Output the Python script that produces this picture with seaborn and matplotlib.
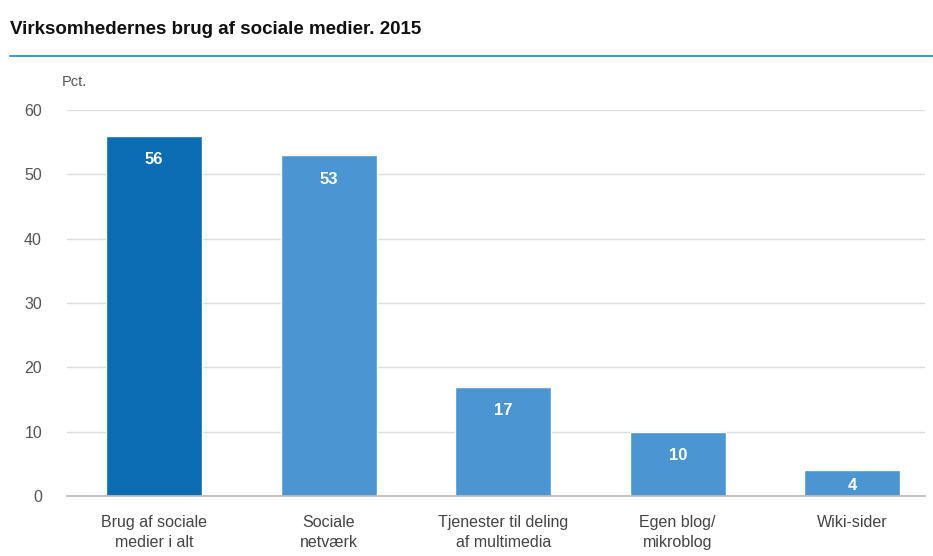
import matplotlib
matplotlib.use("Agg")
import matplotlib.pyplot as plt
import seaborn as sns
import pandas as pd

categories = ["Brug af sociale\nmedier i alt", "Sociale\nnetværk", "Tjenester til deling\naf multimedia",
              "Egen blog/\nmikroblog", "Wiki-sider"]
values = [56, 53, 17, 10, 4]
yticks = [0, 10, 20, 30, 40, 50, 60]
title = "Virksomhedernes brug af sociale medier. 2015"
unit = "Pct."

dark_blue = "#0b6cb4"
light_blue = "#4a95d2"
palette = [dark_blue] + [light_blue] * (len(categories) - 1)

sns.set_theme(style="white")
plt.rcParams["font.family"] = ["Liberation Sans", "DejaVu Sans"]

df = pd.DataFrame({"kategori": categories, "pct": values})

fig = plt.figure(figsize=(9.33, 5.56), dpi=100)
ax = fig.add_axes([67 / 933, 1 - 496 / 556, (925 - 67) / 933, (496 - 110) / 556])

sns.barplot(data=df, x="kategori", y="pct", hue="kategori", palette=palette,
            width=0.55, legend=False, ax=ax, saturation=1)

ax.set_xlim(-0.5, 4.417)
ax.set_ylim(0, 60)
ax.set_yticks(yticks)
ax.set_yticklabels([str(t) for t in yticks], fontsize=11.5, color="#555555")
ax.yaxis.grid(True, color="#dddddd", linewidth=1)
ax.set_axisbelow(True)
for s in ["top", "right", "left"]:
    ax.spines[s].set_visible(False)
ax.spines["bottom"].set_color("#bbbbbb")
ax.tick_params(axis="y", length=0, pad=18)
ax.tick_params(axis="x", length=0, pad=14)
ax.set_xticks(range(len(categories)))
ax.set_xticklabels(categories, fontsize=11.5, color="#444444", linespacing=1.4)
ax.set_xlabel("")
ax.set_ylabel("")

# value labels inside the top of each bar
px_per_unit = (496 - 110) / 60
for i, v in enumerate(values):
    off = min(24, v * px_per_unit / 2 + 2) / px_per_unit
    ax.text(i, v - off, str(v), ha="center", va="center", color="white",
            fontsize=12, fontweight="bold")

fig.text(10 / 933, 1 - 30 / 556, title, fontsize=13.5, fontweight="bold",
         color="#111111", va="center", ha="left")
fig.add_artist(plt.Line2D([10 / 933, 1.0], [1 - 56 / 556, 1 - 56 / 556],
                          color="#3aa0d8", linewidth=1.5, transform=fig.transFigure))
fig.text(62 / 933, 1 - 82 / 556, unit, fontsize=10.5, color="#555555", va="center", ha="left")

fig.savefig("out.png", dpi=100, facecolor="white")
